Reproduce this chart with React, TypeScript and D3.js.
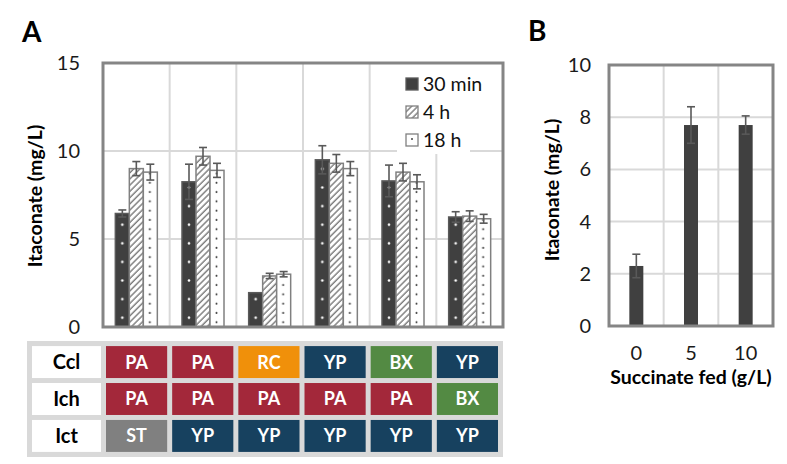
import React from "react";
import * as d3 from "d3";

// ---------- Panel A data ----------
const groupIds = ["g1", "g2", "g3", "g4", "g5", "g6"];
const seriesNames = ["30 min", "4 h", "18 h"];
const val30min = [6.45, 8.25, 1.95, 9.5, 8.3, 6.25];
const err30min = [0.2, 1.0, 0, 0.8, 0.9, 0.3];
const val4h = [9.0, 9.7, 2.9, 9.3, 8.8, 6.3];
const err4h = [0.4, 0.5, 0.15, 0.5, 0.5, 0.3];
const val18h = [8.8, 8.9, 3.0, 9.0, 8.25, 6.15];
const err18h = [0.45, 0.4, 0.15, 0.4, 0.4, 0.25];
const yTicksA = [0, 5, 10, 15];

// ---------- Table data ----------
const rowLabels = ["Ccl", "Ich", "Ict"];
const cclRow = ["PA", "PA", "RC", "YP", "BX", "YP"];
const ichRow = ["PA", "PA", "PA", "PA", "PA", "BX"];
const ictRow = ["ST", "YP", "YP", "YP", "YP", "YP"];
const codeNames = ["PA", "RC", "YP", "BX", "ST"];
const codeColors = ["#A3283A", "#F0900A", "#17415F", "#538A43", "#808080"];

// ---------- Panel B data ----------
const succinateFed = ["0", "5", "10"];
const itaconateB = [2.3, 7.7, 7.7];
const errB = [0.45, 0.7, 0.35];
const yTicksB = [0, 2, 4, 6, 8, 10];

const FONT = "Lato, 'Open Sans', sans-serif";
const GRID = "#D9D9D9";
const FRAME = "#858585";
const ERR = "#595959";
const DARK = "#404040";

export default function App() {
  const valuesA = [val30min, val4h, val18h];
  const errorsA = [err30min, err4h, err18h];
  const tableRows = [cclRow, ichRow, ictRow];
  const colorOf = d3.scaleOrdinal<string, string>().domain(codeNames).range(codeColors);

  // Panel A scales
  const xA = d3.scaleBand<string>().domain(groupIds).range([103, 503]);
  const barW = 14;
  const xSub = d3
    .scaleBand<string>()
    .domain(seriesNames)
    .range([0, barW * seriesNames.length]);
  const groupOffset = (xA.bandwidth() - barW * seriesNames.length) / 2;
  const yA = d3.scaleLinear().domain([0, 15]).range([327, 63]);

  // Table scale
  const xT = d3
    .scaleBand<string>()
    .domain(groupIds)
    .range([103.5, 500.5])
    .paddingInner(0.0756)
    .paddingOuter(0.0378);
  const rowY = d3.scaleBand<string>().domain(rowLabels).range([343.5, 454.5]).paddingInner(0.135).paddingOuter(0.07);

  // Panel B scales
  const xB = d3.scaleBand<string>().domain(succinateFed).range([609, 773]);
  const yB = d3.scaleLinear().domain([0, 10]).range([326, 65]);
  const barWB = 14;

  const barX = (s: number, i: number) =>
    (xA(groupIds[i]) as number) + groupOffset + (xSub(seriesNames[s]) as number);

  return (
    <svg
      width={787}
      height={464}
      style={{ position: "absolute", left: 0, top: 0, background: "#fff" }}
      fontFamily={FONT}
    >
      <defs>
        {valuesA.map((vals, s) =>
          vals.map((v, i) => {
            const x = barX(s, i);
            const id = `p-${s}-${i}`;
            if (s === 0)
              return (
                <pattern key={id} id={id} patternUnits="userSpaceOnUse" x={x} y={327} width={barW} height={18.6}>
                  <rect width={barW} height={18.6} fill={DARK} />
                  <circle cx={barW / 2} cy={9.3} r={1.3} fill="#fff" />
                </pattern>
              );
            if (s === 1)
              return (
                <pattern
                  key={id}
                  id={id}
                  patternUnits="userSpaceOnUse"
                  x={x}
                  y={0}
                  width={4.4}
                  height={4.4}
                  patternTransform="rotate(45)"
                >
                  <rect width={4.4} height={4.4} fill="#fff" />
                  <line x1={1} y1={0} x2={1} y2={4.4} stroke="#555" strokeWidth={1.1} />
                </pattern>
              );
            return (
              <pattern key={id} id={id} patternUnits="userSpaceOnUse" x={x} y={327} width={barW} height={9.3}>
                <rect width={barW} height={9.3} fill="#fff" />
                <circle cx={barW / 2 - 0.5} cy={4.6} r={1} fill="#444" />
              </pattern>
            );
          })
        )}
        <pattern id="lg-0" patternUnits="userSpaceOnUse" x={406} y={78} width={12} height={12}>
          <rect width={12} height={12} fill={DARK} />
        </pattern>
        <pattern id="lg-1" patternUnits="userSpaceOnUse" width={4.4} height={4.4} patternTransform="rotate(45)">
          <rect width={4.4} height={4.4} fill="#fff" />
          <line x1={1} y1={0} x2={1} y2={4.4} stroke="#555" strokeWidth={1.1} />
        </pattern>
        <pattern id="lg-2" patternUnits="userSpaceOnUse" x={406} y={133} width={12} height={12}>
          <rect width={12} height={12} fill="#fff" />
          <circle cx={6} cy={6} r={1} fill="#444" />
        </pattern>
      </defs>

      {/* ===== Panel A ===== */}
      <text x={22} y={42} fontSize={28} fontWeight="bold" fill="#000">
        A
      </text>
      {yTicksA.map((t) => (
        <line key={`ga-${t}`} x1={103} x2={503} y1={yA(t)} y2={yA(t)} stroke={GRID} strokeWidth={2} />
      ))}
      {groupIds.slice(1).map((g) => (
        <line
          key={`gv-${g}`}
          x1={xA(g) as number}
          x2={xA(g) as number}
          y1={63}
          y2={327}
          stroke={GRID}
          strokeWidth={2}
        />
      ))}
      <rect x={397} y={64} width={73} height={90} fill="#fff" />
      {valuesA.map((vals, s) =>
        vals.map((v, i) => (
          <rect
            key={`b-${s}-${i}`}
            x={barX(s, i)}
            y={yA(v)}
            width={barW}
            height={yA(0) - yA(v)}
            fill={`url(#p-${s}-${i})`}
            stroke={s === 0 ? "#5a5a5a" : "#808080"}
            strokeWidth={1.5}
          />
        ))
      )}
      {valuesA.map((vals, s) =>
        vals.map((v, i) => {
          const e = errorsA[s][i];
          if (!e) return null;
          const cx = barX(s, i) + barW / 2;
          return (
            <g key={`e-${s}-${i}`} stroke={ERR} strokeWidth={1.6}>
              <line x1={cx} x2={cx} y1={yA(v - e)} y2={yA(v + e)} />
              <line x1={cx - 4} x2={cx + 4} y1={yA(v + e)} y2={yA(v + e)} />
              <line x1={cx - 4} x2={cx + 4} y1={yA(v - e)} y2={yA(v - e)} />
            </g>
          );
        })
      )}
      <rect x={103} y={63} width={400} height={264} fill="none" stroke={FRAME} strokeWidth={3} />
      {yTicksA.map((t) => (
        <text key={`ta-${t}`} x={80} y={yA(t)} dy="0.35em" textAnchor="end" fontSize={20} fill="#1a1a1a">
          {t}
        </text>
      ))}
      <text
        transform={`translate(42,196) rotate(-90)`}
        textAnchor="middle"
        fontSize={19.5}
        fontWeight="bold"
        fill="#000"
      >
        Itaconate (mg/L)
      </text>
      {seriesNames.map((n, s) => {
        const cy = 84 + s * 28;
        return (
          <g key={`lg-${s}`}>
            <rect
              x={406}
              y={cy - 6}
              width={12}
              height={12}
              fill={`url(#lg-${s})`}
              stroke={s === 0 ? "#5a5a5a" : "#808080"}
              strokeWidth={1.3}
            />
            <text x={423} y={cy} dy="0.35em" fontSize={19.5} fill="#111">
              {n}
            </text>
          </g>
        );
      })}

      {/* ===== Table ===== */}
      <rect x={27} y={341} width={476} height={116} fill="#D9D9D9" />
      {rowLabels.map((r, ri) => (
        <g key={`row-${r}`}>
          <rect x={32} y={rowY(r) as number} width={69} height={rowY.bandwidth()} fill="#fff" />
          <text
            x={66.5}
            y={(rowY(r) as number) + rowY.bandwidth() / 2}
            dy="0.36em"
            textAnchor="middle"
            fontSize={20}
            fontWeight="bold"
            fill="#000"
          >
            {r}
          </text>
          {tableRows[ri].map((code, ci) => (
            <g key={`c-${ri}-${ci}`}>
              <rect
                x={xT(groupIds[ci]) as number}
                y={rowY(r) as number}
                width={xT.bandwidth()}
                height={rowY.bandwidth()}
                fill={colorOf(code)}
              />
              <text
                x={(xT(groupIds[ci]) as number) + xT.bandwidth() / 2}
                y={(rowY(r) as number) + rowY.bandwidth() / 2}
                dy="0.36em"
                textAnchor="middle"
                fontSize={18}
                fontWeight="bold"
                fill="#fff"
              >
                {code}
              </text>
            </g>
          ))}
        </g>
      ))}

      {/* ===== Panel B ===== */}
      <text x={528} y={41} fontSize={28} fontWeight="bold" fill="#000">
        B
      </text>
      {yTicksB.map((t) => (
        <line key={`gb-${t}`} x1={609} x2={773} y1={yB(t)} y2={yB(t)} stroke={GRID} strokeWidth={2} />
      ))}
      {succinateFed.slice(1).map((c) => (
        <line
          key={`gvb-${c}`}
          x1={xB(c) as number}
          x2={xB(c) as number}
          y1={65}
          y2={326}
          stroke={GRID}
          strokeWidth={2}
        />
      ))}
      {itaconateB.map((v, i) => {
        const cx = (xB(succinateFed[i]) as number) + xB.bandwidth() / 2;
        return (
          <rect
            key={`bb-${i}`}
            x={cx - barWB / 2}
            y={yB(v)}
            width={barWB}
            height={yB(0) - yB(v)}
            fill={DARK}
          />
        );
      })}
      {itaconateB.map((v, i) => {
        const cx = (xB(succinateFed[i]) as number) + xB.bandwidth() / 2;
        const e = errB[i];
        return (
          <g key={`eb-${i}`} stroke={ERR} strokeWidth={1.6}>
            <line x1={cx} x2={cx} y1={yB(v - e)} y2={yB(v + e)} />
            <line x1={cx - 4} x2={cx + 4} y1={yB(v + e)} y2={yB(v + e)} />
            <line x1={cx - 4} x2={cx + 4} y1={yB(v - e)} y2={yB(v - e)} />
          </g>
        );
      })}
      <rect x={609} y={65} width={164} height={261} fill="none" stroke={FRAME} strokeWidth={3} />
      {yTicksB.map((t) => (
        <text key={`tb-${t}`} x={591} y={yB(t)} dy="0.35em" textAnchor="end" fontSize={20} fill="#1a1a1a">
          {t}
        </text>
      ))}
      {succinateFed.map((c) => (
        <text
          key={`xb-${c}`}
          x={(xB(c) as number) + xB.bandwidth() / 2}
          y={353}
          dy="0.35em"
          textAnchor="middle"
          fontSize={20}
          fill="#1a1a1a"
        >
          {c}
        </text>
      ))}
      <text x={691} y={377} dy="0.35em" textAnchor="middle" fontSize={19.5} fontWeight="bold" fill="#000">
        Succinate fed (g/L)
      </text>
      <text
        transform={`translate(559,190) rotate(-90)`}
        textAnchor="middle"
        fontSize={19.5}
        fontWeight="bold"
        fill="#000"
      >
        Itaconate (mg/L)
      </text>
    </svg>
  );
}
